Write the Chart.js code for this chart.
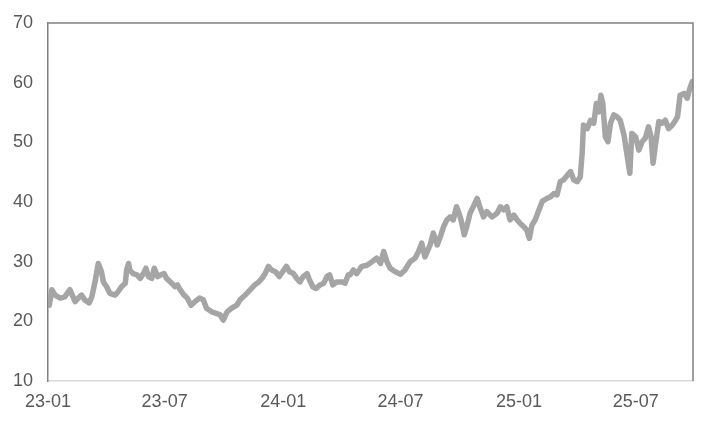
<!DOCTYPE html>
<html>
<head>
<meta charset="utf-8">
<script src="https://cdn.jsdelivr.net/npm/chart.js@4.4.0/dist/chart.umd.min.js"></script>
<style>
  html, body { margin: 0; padding: 0; background: #ffffff; }
  #wrap { width: 716px; height: 427px; }
</style>
</head>
<body>
<div id="wrap"><canvas id="priceChart"></canvas></div>
<script>
/* DATA: DAYS SINCE 2023-01-01 AND VALUES */
var startDate = "2023-01-01";
var dayNums = [
  2, 6, 11, 19, 26, 34, 42, 47, 52, 57, 64, 68, 73, 78, 83, 86, 91, 96, 104, 109,
  114, 120, 122, 125, 127, 132, 138, 143, 148, 152, 156, 161, 165, 170, 175, 180, 184, 192, 197, 201,
  205, 211, 216, 222, 228, 235, 241, 246, 254, 262, 267, 272, 278, 285, 293, 298, 306, 314, 321, 327,
  332, 337, 342, 347, 353, 359, 364, 370, 375, 381, 386, 391, 396, 402, 406, 411, 416, 422, 428, 433,
  437, 442, 448, 456, 461, 466, 469, 474, 479, 487, 495, 503, 510, 516, 521, 526, 531, 539, 547, 554,
  562, 570, 575, 580, 585, 593, 598, 604, 609, 614, 619, 624, 629, 634, 637, 641, 646, 650, 655, 660,
  666, 670, 676, 681, 689, 697, 702, 707, 712, 717, 723, 728, 733, 738, 743, 747, 751, 756, 761, 767,
  774, 780, 785, 790, 795, 800, 806, 811, 816, 821, 826, 829, 831, 837, 842, 847, 851, 855, 858, 861,
  865, 869, 873, 878, 883, 888, 894, 899, 903, 906, 912, 917, 922, 927, 932, 936, 939, 943, 948, 953,
  958, 963, 969, 974, 977, 981, 987, 992, 996, 1000
];
var priceValues = [
  22.7, 25.3, 24.4, 23.9, 24.1, 25.3, 23.3, 23.9, 24.4, 23.6, 23.1, 24.1, 26.6, 29.7, 28.3, 26.6, 25.8, 24.7, 24.4, 25.0,
  25.8, 26.4, 28.6, 29.7, 28.6, 28.0, 27.8, 27.2, 28.0, 28.9, 27.5, 27.2, 28.9, 27.5, 27.8, 28.0, 27.2, 26.4, 25.8, 26.1,
  25.3, 24.4, 23.9, 22.7, 23.3, 23.9, 23.6, 22.2, 21.6, 21.3, 21.1, 20.2, 21.6, 22.2, 22.7, 23.6, 24.4, 25.3, 26.1, 26.6,
  27.2, 28.0, 29.2, 28.6, 28.3, 27.5, 28.3, 29.2, 28.3, 28.0, 27.2, 26.6, 27.5, 28.0, 26.9, 25.8, 25.5, 26.1, 26.4, 27.5,
  27.8, 26.1, 26.6, 26.6, 26.4, 27.8, 27.8, 28.6, 28.0, 29.2, 29.4, 30.0, 30.6, 29.7, 31.7, 30.0, 28.9, 28.3, 27.9, 28.6,
  30.0, 30.6, 31.7, 33.1, 30.8, 32.8, 34.8, 32.8, 34.2, 35.9, 37.0, 37.5, 37.0, 39.2, 38.4, 37.0, 34.5, 35.9, 38.1, 39.2,
  40.6, 39.2, 37.5, 38.4, 37.5, 38.1, 39.2, 38.7, 39.2, 37.0, 37.8, 37.0, 36.4, 35.9, 35.3, 33.9, 36.1, 37.0, 38.4, 40.1,
  40.6, 40.9, 41.4, 41.2, 43.4, 43.7, 44.5, 45.1, 43.7, 43.4, 44.2, 48.2, 52.9, 52.3, 53.7, 53.2, 56.5, 55.1, 57.9, 56.5,
  50.9, 50.1, 53.2, 54.6, 54.3, 53.7, 51.2, 47.6, 44.8, 51.5, 50.9, 48.7, 50.1, 50.7, 52.6, 50.9, 46.5, 49.8, 53.5, 53.2,
  53.7, 52.3, 52.9, 53.7, 54.3, 57.9, 58.2, 57.4, 59.0, 60.2
];
/* X TICKS: 2023-01, 2023-07, 2024-01, 2024-07, 2025-01, 2025-07 */
var xTickDays = [0, 181, 365, 547, 731, 912];
var xTickLabels = ["23-01", "23-07", "24-01", "24-07", "25-01", "25-07"];
var xMaxDay = 1001;
var yTicks = [10, 20, 30, 40, 50, 60, 70];

var points = dayNums.map(function (d, i) { return { x: d, y: priceValues[i] }; });

/* TOP AND RIGHT FRAME LINES */
var frameLines = {
  id: "frameLines",
  afterDraw: function (chart) {
    var a = chart.chartArea, ctx = chart.ctx;
    ctx.save();
    ctx.strokeStyle = "#808080";
    ctx.lineWidth = 1.5;
    ctx.beginPath();
    ctx.moveTo(a.left, a.top);
    ctx.lineTo(a.right, a.top);
    ctx.lineTo(a.right, a.bottom);
    ctx.stroke();
    ctx.restore();
  }
};

var labelFont = { family: "'Liberation Sans', Arial, sans-serif", size: 18 };

new Chart(document.getElementById("priceChart"), {
  type: "line",
  data: {
    datasets: [{
      data: points,
      borderColor: "#a5a5a5",
      borderWidth: 5.5,
      pointRadius: 0,
      tension: 0,
      borderJoinStyle: "round",
      borderCapStyle: "round"
    }]
  },
  options: {
    responsive: true,
    maintainAspectRatio: false,
    animation: false,
    layout: { padding: { left: 0, right: 23, top: 23, bottom: 0 } },
    plugins: { legend: { display: false }, tooltip: { enabled: false } },
    scales: {
      x: {
        type: "linear",
        min: 0,
        max: xMaxDay,
        afterBuildTicks: function (scale) {
          scale.ticks = xTickDays.map(function (v) { return { value: v }; });
        },
        afterFit: function (scale) { scale.height = 46; },
        ticks: {
          autoSkip: false,
          maxRotation: 0,
          padding: 2,
          color: "#595959",
          font: labelFont,
          callback: function (v) {
            var k = xTickDays.indexOf(v);
            return k >= 0 ? xTickLabels[k] : "";
          }
        },
        grid: { display: false },
        border: { display: true, color: "#d9d9d9", width: 1.5 }
      },
      y: {
        min: 10,
        max: 70,
        afterBuildTicks: function (scale) {
          scale.ticks = yTicks.map(function (v) { return { value: v }; });
        },
        afterFit: function (scale) { scale.width = 48; },
        ticks: {
          padding: 7,
          color: "#595959",
          font: labelFont
        },
        grid: { display: false },
        border: { display: true, color: "#808080", width: 1.5 }
      }
    }
  },
  plugins: [frameLines]
});
</script>
</body>
</html>
